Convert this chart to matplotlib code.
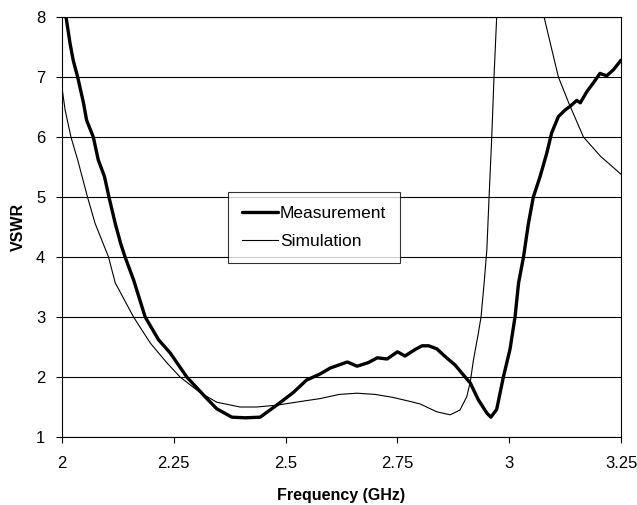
import matplotlib
matplotlib.use("Agg")
import matplotlib.pyplot as plt

plt.rcParams['font.family'] = ['Liberation Sans', 'DejaVu Sans']

# Measurement (thick line)
meas_f = [2.009, 2.018, 2.025, 2.035, 2.048, 2.055, 2.07, 2.081, 2.095, 2.105, 2.119, 2.131,
          2.141, 2.16, 2.186, 2.216, 2.242, 2.279, 2.324, 2.346, 2.38, 2.41, 2.443, 2.48,
          2.517, 2.547, 2.562, 2.577, 2.6, 2.638, 2.66, 2.685, 2.705, 2.727, 2.75, 2.767,
          2.79, 2.805, 2.82, 2.838, 2.857, 2.879, 2.898, 2.913, 2.931, 2.95, 2.959, 2.972,
          2.987, 3.002, 3.013, 3.021, 3.032, 3.043, 3.054, 3.069, 3.084, 3.095, 3.11, 3.125,
          3.136, 3.151, 3.159, 3.174, 3.188, 3.203, 3.218, 3.233, 3.25]
meas_v = [8.0, 7.56, 7.28, 7.0, 6.57, 6.28, 6.0, 5.62, 5.34, 5.0, 4.56, 4.23,
          4.0, 3.62, 3.0, 2.62, 2.4, 2.0, 1.64, 1.47, 1.33, 1.32, 1.33, 1.53,
          1.74, 1.95, 2.0, 2.05, 2.15, 2.25, 2.18, 2.24, 2.32, 2.3, 2.42, 2.35,
          2.46, 2.52, 2.52, 2.47, 2.34, 2.2, 2.03, 1.9, 1.62, 1.4, 1.33, 1.46,
          2.0, 2.47, 3.0, 3.57, 4.0, 4.56, 5.0, 5.34, 5.73, 6.07, 6.34, 6.45,
          6.51, 6.61, 6.57, 6.76, 6.9, 7.06, 7.02, 7.12, 7.28]

# Simulation (thin line)
sim_f = [2.0, 2.007, 2.02, 2.035, 2.057, 2.074, 2.104, 2.119, 2.16, 2.197, 2.234, 2.264,
         2.309, 2.346, 2.398, 2.435, 2.48, 2.532, 2.577, 2.62, 2.66, 2.7, 2.74, 2.78,
         2.801, 2.838, 2.868, 2.89, 2.905, 2.913, 2.92, 2.931, 2.937, 2.944, 2.95, 2.955,
         2.961, 2.966, 2.972, 3.0, 3.03, 3.06, 3.078, 3.092, 3.11, 3.133, 3.166, 3.204,
         3.25]
sim_v = [6.82, 6.45, 6.0, 5.62, 5.0, 4.56, 4.0, 3.57, 3.0, 2.57, 2.24, 2.0,
         1.74, 1.58, 1.5, 1.5, 1.53, 1.59, 1.64, 1.71, 1.73, 1.71, 1.66, 1.59,
         1.55, 1.42, 1.37, 1.45, 1.67, 1.92, 2.28, 2.73, 3.0, 3.57, 4.12, 5.0,
         6.0, 7.0, 8.0, 14.0, 16.0, 10.0, 8.0, 7.56, 7.0, 6.57, 6.0, 5.68,
         5.38]

x_ticks = [2, 2.25, 2.5, 2.75, 3, 3.25]
x_ticklabels = ["2", "2.25", "2.5", "2.75", "3", "3.25"]
y_ticks = [1, 2, 3, 4, 5, 6, 7, 8]

fig = plt.figure(figsize=(6.37, 5.05), dpi=100)
ax = fig.add_axes([62/637, 1-437/505, (621-62)/637, (437-17)/505])

ax.plot(meas_f, meas_v, color='black', lw=2.4, label='Measurement',
        solid_joinstyle='round', solid_capstyle='round')
ax.plot(sim_f, sim_v, color='black', lw=0.8, label='Simulation')

ax.set_xlim(2, 3.25)
ax.set_ylim(1, 8)
ax.set_xticks(x_ticks)
ax.set_xticklabels(x_ticklabels)
ax.set_yticks(y_ticks)
ax.yaxis.grid(True, color='black', lw=0.8)
ax.set_axisbelow(True)
for s in ax.spines.values():
    s.set_color('black')
    s.set_linewidth(0.8)
ax.tick_params(axis='both', direction='out', length=4, width=0.8, labelsize=12, colors='black')
ax.tick_params(axis='x', pad=10)
ax.tick_params(axis='y', pad=8)

ax.set_xlabel('Frequency (GHz)', fontsize=11.5, fontweight='bold', labelpad=12)
ax.set_ylabel('VSWR', fontsize=11.5, fontweight='bold', labelpad=7)

leg = ax.legend(loc='upper left', bbox_to_anchor=(0.297, 0.583), borderaxespad=0,
                fancybox=False, frameon=True, edgecolor='black', fontsize=12.5,
                handlelength=2.1, handletextpad=0.1, labelspacing=0.75,
                borderpad=0.8)
leg.get_frame().set_linewidth(0.8)

fig.savefig('out.png', dpi=100)
